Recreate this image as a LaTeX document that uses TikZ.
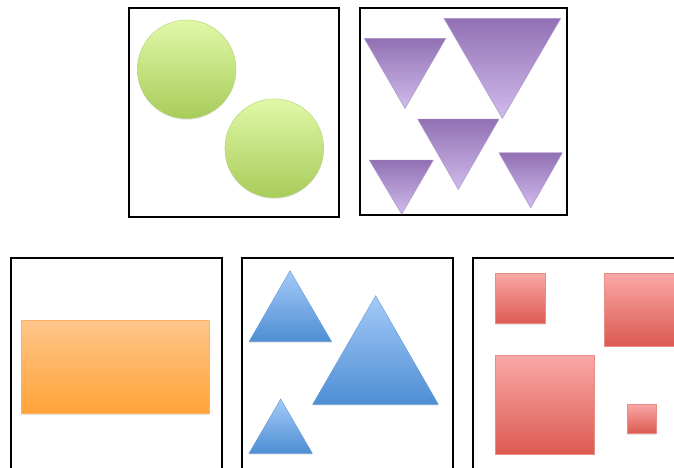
\documentclass[tikz,border=0pt]{standalone}
\definecolor{limetop}{RGB}{224,248,168}
\definecolor{limebot}{RGB}{168,204,90}
\definecolor{limeedge}{RGB}{176,210,110}
\definecolor{plumtop}{RGB}{146,112,180}
\definecolor{plumbot}{RGB}{208,188,236}
\definecolor{plumedge}{RGB}{170,145,205}
\definecolor{skytop}{RGB}{164,202,248}
\definecolor{skybot}{RGB}{78,142,212}
\definecolor{skyedge}{RGB}{100,155,215}
\definecolor{peachtop}{RGB}{255,198,138}
\definecolor{peachbot}{RGB}{255,163,56}
\definecolor{peachedge}{RGB}{252,178,100}
\definecolor{rosetop}{RGB}{250,168,166}
\definecolor{rosebot}{RGB}{220,90,82}
\definecolor{roseedge}{RGB}{232,140,134}
\usetikzlibrary{shadows}

\begin{document}
\begin{tikzpicture}[x=1pt, y=-1pt,
  frame/.style={draw=black, line width=1.6pt},
  soft/.style={drop shadow={opacity=0.2, shadow xshift=0pt, shadow yshift=-1.2pt}},
  ball/.style={soft, top color=limetop, bottom color=limebot, draw=limeedge, line width=0.4pt},
  wedge/.style={soft, top color=plumtop, bottom color=plumbot, draw=plumedge, line width=0.4pt},
  peak/.style={soft, top color=skytop, bottom color=skybot, draw=skyedge, line width=0.4pt},
  slab/.style={soft, top color=peachtop, bottom color=peachbot, draw=peachedge, line width=0.4pt},
  tile/.style={soft, top color=rosetop, bottom color=rosebot, draw=roseedge, line width=0.4pt},
]
  \useasboundingbox (0,0) rectangle (674,467);
  \clip (0,0) rectangle (674,467);

  % top row
  \draw[frame] (129,8) rectangle (339,217);
  \draw[frame] (360,8) rectangle (567,215);
  \path[ball] (186.7,69.3) circle (49.3);
  \path[ball] (274.3,148.3) circle (49.4);
  \foreach \xl/\xr/\ytop/\xa/\ya in {364.3/445.7/38.3/405/108.3, 444/560.7/18.3/502.3/118.3,
      417.7/499/119/458.3/189.3, 369.3/433.3/160/401.7/214, 499/562.3/152.7/530.7/207.7}
    \path[wedge] (\xl,\ytop) -- (\xr,\ytop) -- (\xa,\ya) -- cycle;

  % bottom row
  \draw[frame] (11,258) rectangle (222,480);
  \draw[frame] (242,258) rectangle (453,480);
  \draw[frame] (473,258) rectangle (690,480);
  \path[slab] (21,320) rectangle (209.3,413.3);
  \foreach \xa/\ya/\xl/\xr/\ybase in {290/270.7/249/331.7/341.7, 375.7/295.7/312.7/438.3/404.3,
      280.7/399/249/312.3/453.3}
    \path[peak] (\xa,\ya) -- (\xr,\ybase) -- (\xl,\ybase) -- cycle;
  \foreach \xl/\yt/\xr/\yb in {495/273.3/545/323.3, 604/273.3/690/345.7,
      495/355/594/454, 627.3/404/656/433.3}
    \path[tile] (\xl,\yt) rectangle (\xr,\yb);
\end{tikzpicture}
\end{document}
